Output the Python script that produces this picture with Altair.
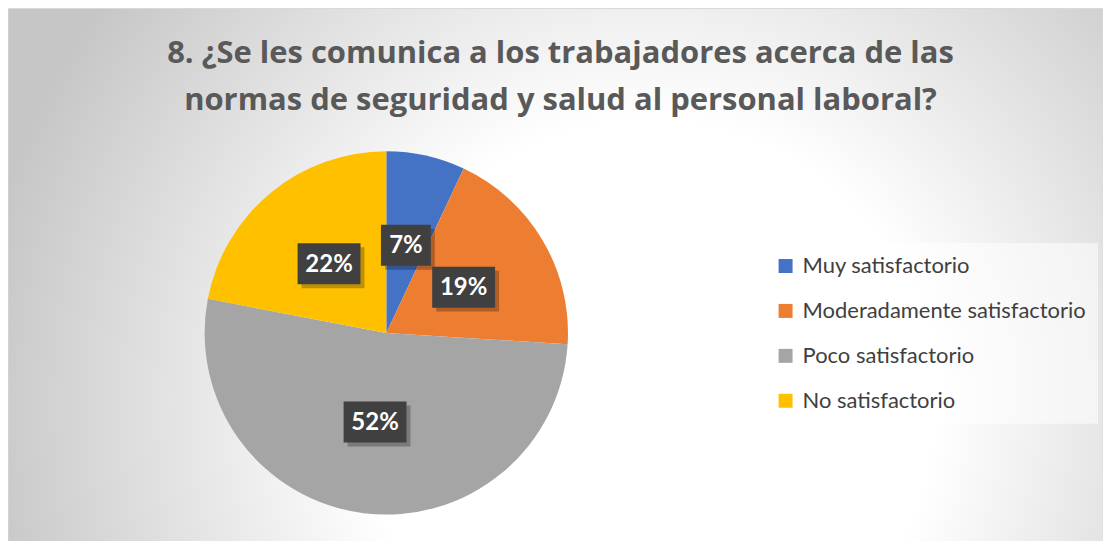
import altair as alt
import pandas as pd

# ---- data ----
categories = ["Muy satisfactorio", "Moderadamente satisfactorio",
              "Poco satisfactorio", "No satisfactorio"]
values = [7, 19, 52, 22]
labels = ["7%", "19%", "52%", "22%"]
colors = ["#4472C4", "#ED7D31", "#A5A5A5", "#FFC000"]
title_lines = ["8. ¿Se les comunica a los trabajadores acerca de las",
               "normas de seguridad y salud al personal laboral?"]

# ---- layout constants ----
W, H = 1097, 534
CX, CY, R, LR = 379, 325, 182, 90

df = pd.DataFrame({"idx": list(range(len(categories))), "category": categories,
                   "value": values, "label": labels})
bg_df = pd.DataFrame({"k": [0]})

xsc = alt.Scale(domain=[0, W], range=[0, W], nice=False, zero=False)
ysc = alt.Scale(domain=[0, H], range=[0, H], nice=False, zero=False)

bg = alt.Chart(bg_df).mark_rect(
    fill=alt.Gradient(
        gradient="radial", x1=0.585, y1=0.62, r1=0, x2=0.585, y2=0.62, r2=0.62,
        stops=[alt.GradientStop(color="#ffffff", offset=0),
               alt.GradientStop(color="#ffffff", offset=0.42),
               alt.GradientStop(color="#c6c6c6", offset=1)]),
    stroke="#d9d9d9", strokeWidth=1,
).encode(x=alt.value(0), x2=alt.value(W), y=alt.value(0), y2=alt.value(H))

pie = alt.Chart(df).mark_arc(radius=R).encode(
    theta=alt.Theta("value:Q", stack=True),
    color=alt.Color(
        "category:N", title=None,
        scale=alt.Scale(domain=categories, range=colors),
        legend=alt.Legend(
            orient="none", legendX=756, legendY=235,
            symbolType="square", symbolSize=196, symbolStrokeWidth=0,
            labelFont="Lato", labelFontSize=22, labelColor="#404040",
            labelLimit=600, rowPadding=23, padding=12, labelOffset=6,
            fillColor="rgba(255,255,255,0.55)",
        ),
    ),
    order=alt.Order("idx:Q"),
    x=alt.value(CX), y=alt.value(CY),
)

lab_base = alt.Chart(df).transform_joinaggregate(
    total="sum(value)"
).transform_window(
    cum="sum(value)", sort=[alt.SortField("idx")]
).transform_calculate(
    mid="(datum.cum - datum.value / 2) / datum.total * 2 * PI",
    cx=f"{CX} + {LR} * sin(datum.mid)",
    cy=f"{CY} - {LR} * cos(datum.mid)",
    bw="13 * length(datum.label) + 24",
    bx1="datum.cx - datum.bw / 2",
    bx2="datum.cx + datum.bw / 2",
    by1="datum.cy - 20.5",
    by2="datum.cy + 20.5",
    sx1="datum.bx1 + 4",
    sx2="datum.bx2 + 4",
    sy1="datum.by1 + 4",
    sy2="datum.by2 + 4",
)

shadow = lab_base.mark_rect(color="#000000", opacity=0.25).encode(
    x=alt.X("sx1:Q", scale=xsc, axis=None), x2="sx2:Q",
    y=alt.Y("sy1:Q", scale=ysc, axis=None), y2="sy2:Q",
)
boxes = lab_base.mark_rect(color="#404040").encode(
    x=alt.X("bx1:Q", scale=xsc, axis=None), x2="bx2:Q",
    y=alt.Y("by1:Q", scale=ysc, axis=None), y2="by2:Q",
)
text = lab_base.mark_text(
    font="Lato", fontWeight="bold", fontSize=24, color="#ffffff",
    align="center", baseline="middle", dy=1,
).encode(
    x=alt.X("cx:Q", scale=xsc, axis=None),
    y=alt.Y("cy:Q", scale=ysc, axis=None),
    text="label:N",
)

chart = alt.layer(bg, pie, shadow, boxes, text).properties(
    width=W, height=H,
    title=alt.TitleParams(
        text=title_lines, font="Open Sans", fontSize=31, fontWeight="bold",
        color="#595959", anchor="middle", frame="group", lineHeight=47,
        baseline="top", offset=-109, dx=5,
    ),
    autosize=alt.AutoSizeParams(type="none"),
    padding=0,
    background="#ffffff",
).configure_view(strokeWidth=0)

chart.save("out.html", embed_options={"renderer": "svg", "actions": False})
